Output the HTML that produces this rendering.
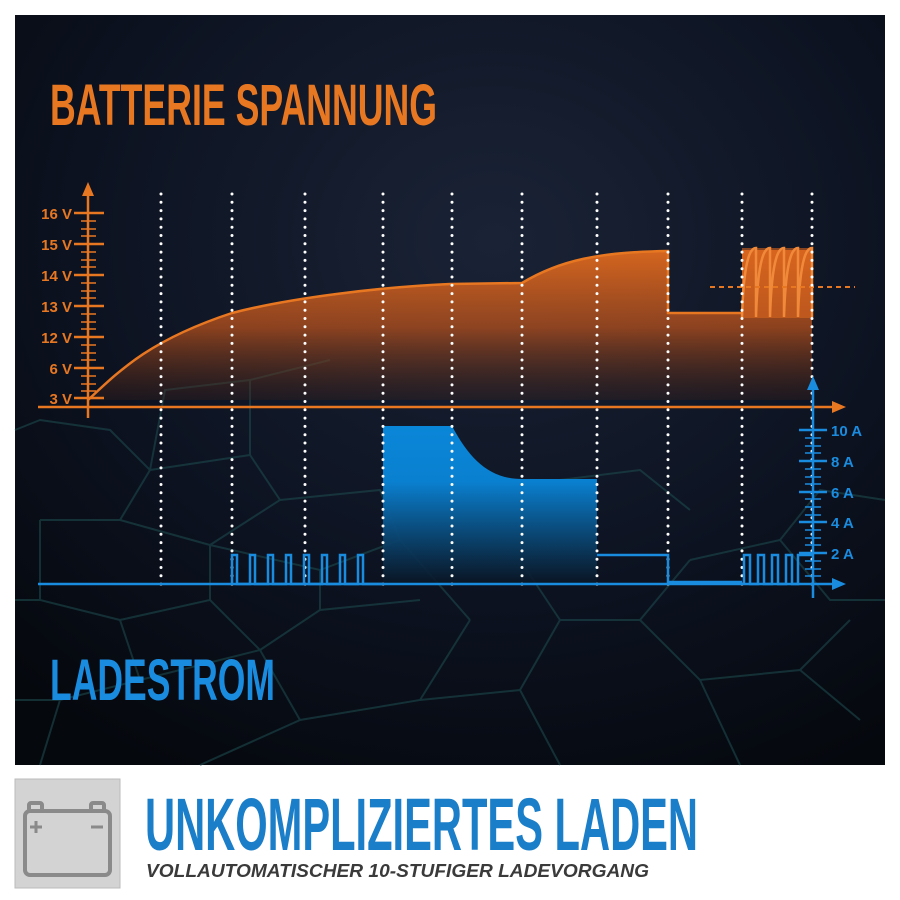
<!DOCTYPE html>
<html><head><meta charset="utf-8"><style>
html,body{margin:0;padding:0;background:#fff;}
svg{display:block}
</style></head><body>
<svg width="900" height="900" viewBox="0 0 900 900" xmlns="http://www.w3.org/2000/svg">
<defs>
<radialGradient id="bg" cx="0.55" cy="0.3" r="0.8">
<stop offset="0" stop-color="#1a2336"/><stop offset="0.6" stop-color="#0c1220"/><stop offset="1" stop-color="#05080d"/>
</radialGradient>
<linearGradient id="og" gradientUnits="userSpaceOnUse" x1="0" y1="250" x2="0" y2="405">
<stop offset="0" stop-color="#e06a1e" stop-opacity="0.95"/><stop offset="0.5" stop-color="#b5501c" stop-opacity="0.75"/><stop offset="1" stop-color="#3a1f18" stop-opacity="0.25"/>
</linearGradient>
<linearGradient id="bgr" gradientUnits="userSpaceOnUse" x1="0" y1="426" x2="0" y2="585">
<stop offset="0" stop-color="#0a86d8"/><stop offset="0.35" stop-color="#0a80d0"/><stop offset="1" stop-color="#0a1422" stop-opacity="0.9"/>
</linearGradient>
</defs>
<rect x="15" y="15" width="870" height="750" fill="url(#bg)"/>
<g stroke="#1d4a4c" stroke-width="2" fill="none" opacity="0.6">
<path d="M15 430 L40 420 L110 430 L150 470 L120 520 L40 520 M150 470 L250 455 L280 500 L210 545 L120 520 M280 500 L380 490 L400 540 L320 570 L210 545 M40 520 L40 600 L120 620 L140 680 L60 700 M120 620 L210 600 L210 545 M210 600 L260 650 L140 680 M260 650 L320 610 L320 570 M320 610 L420 600 M260 650 L300 720 L200 765 M300 720 L420 700 L470 620 M420 700 L520 690 L560 620 L640 620 L690 560 M520 690 L560 765 M640 620 L700 680 L800 670 L850 620 M700 680 L740 765 M800 670 L860 720 M560 620 L520 560 M690 560 L780 540 L820 490 L885 500 M780 540 L830 600 L885 600 M560 480 L640 470 L690 510 M400 540 L470 620 M150 470 L165 390 L250 380 L250 455 M250 380 L330 360 M15 600 L40 600 M15 700 L60 700 L40 765"/>
</g>
<!-- orange fill -->
<path d="M88 400 C120 370 150 340 232 313 C290 298 380 287 450 284 L522 283 C560 260 600 252 668 251 L668 313 L742 313 L742 250 L812 250 L812 400 Z" fill="url(#og)"/>
<path d="M88 400 C120 370 150 340 232 313 C290 298 380 287 450 284 L522 283 C560 260 600 252 668 251 L668 313 L742 313" fill="none" stroke="#e87722" stroke-width="2.5"/>
<rect x="742" y="248" width="70" height="70" fill="#d8641e" opacity="0.6"/>
<path d="M742 317 C744 252 752 248 756 248 L756 317 M756 317 C758 252 766 248 770 248 L770 317 M770 317 C772 252 780 248 784 248 L784 317 M784 317 C786 252 794 248 798 248 L798 317 M798 317 C800 252 808 248 812 248 L812 317" fill="none" stroke="#f08a3a" stroke-width="2.5"/>
<line x1="710" y1="287" x2="855" y2="287" stroke="#e87722" stroke-width="2" stroke-dasharray="5 4"/>
<!-- blue block -->
<path d="M383 585 L383 426 L452 426 C470 460 490 479 522 479 L597 479 L597 585 Z" fill="url(#bgr)"/>
<!-- dotted verticals -->
<g stroke="#fff" stroke-width="3" stroke-linecap="round" stroke-dasharray="0 8.3">
<line x1="161" y1="194" x2="161" y2="586"/><line x1="232" y1="194" x2="232" y2="586"/><line x1="305" y1="194" x2="305" y2="586"/><line x1="383" y1="194" x2="383" y2="586"/><line x1="452" y1="194" x2="452" y2="586"/><line x1="522" y1="194" x2="522" y2="586"/><line x1="597" y1="194" x2="597" y2="586"/><line x1="668" y1="194" x2="668" y2="586"/><line x1="742" y1="194" x2="742" y2="586"/><line x1="812" y1="194" x2="812" y2="586"/>
</g>
<!-- orange axes -->
<g stroke="#e87722" stroke-width="2.5" fill="none">
<line x1="88" y1="192" x2="88" y2="418"/>
<line x1="38" y1="407" x2="835" y2="407"/>
<path d="M74 213 H104 M74 244 H104 M74 275 H104 M74 306 H104 M74 337 H104 M74 368 H104 M74 398 H104" />
<path d="M81 221H96M81 229H96M81 236H96M81 252H96M81 260H96M81 267H96M81 283H96M81 291H96M81 298H96M81 314H96M81 322H96M81 329H96M81 345H96M81 353H96M81 360H96M81 376H96M81 384H96M81 391H96" stroke-width="1.5"/>
</g>
<polygon points="88,182 82,196 94,196" fill="#e87722"/>
<polygon points="846,407 832,401 832,413" fill="#e87722"/>
<g font-family="Liberation Sans, sans-serif" font-weight="bold" font-size="15" fill="#e87722" text-anchor="end">
<text x="72" y="219">16 V</text><text x="72" y="250">15 V</text><text x="72" y="281">14 V</text><text x="72" y="312">13 V</text><text x="72" y="343">12 V</text><text x="72" y="374">6 V</text><text x="72" y="404">3 V</text>
</g>
<!-- blue lines -->
<g stroke="#1a8ce0" stroke-width="2.5" fill="none">
<line x1="38" y1="584" x2="835" y2="584"/>
<path d="M232 584 V555 H237 V584 H250 V555 H255 V584 H268 V555 H273 V584 H286 V555 H291 V584 H304 V555 H309 V584 H322 V555 H327 V584 H340 V555 H345 V584 H358 V555 H363 V584 H383"/>
<path d="M597 555 H668 V582 H742"/>
<path d="M744 584 V555 H750 V584 H758 V555 H764 V584 H772 V555 H778 V584 H786 V555 H792 V584 H798 V555 H812"/>
<line x1="813" y1="384" x2="813" y2="598"/>
<path d="M799 430H827M799 461H827M799 492H827M799 522H827M799 553H827"/>
<path d="M805 438H821M805 446H821M805 453H821M805 469H821M805 477H821M805 484H821M805 499H821M805 507H821M805 515H821M805 530H821M805 538H821M805 545H821M805 561H821M805 569H821M805 576H821" stroke-width="1.5"/>
</g>
<polygon points="813,376 807,390 819,390" fill="#1a8ce0"/>
<polygon points="846,584 832,578 832,590" fill="#1a8ce0"/>
<g font-family="Liberation Sans, sans-serif" font-weight="bold" font-size="15" fill="#1a8ce0">
<text x="831" y="436">10 A</text><text x="831" y="467">8 A</text><text x="831" y="498">6 A</text><text x="831" y="528">4 A</text><text x="831" y="559">2 A</text>
</g>
<!-- titles -->
<text x="50" y="125" font-family="Liberation Sans, sans-serif" font-weight="bold" font-size="58" fill="#e87722" textLength="387" lengthAdjust="spacingAndGlyphs">BATTERIE SPANNUNG</text>
<text x="50" y="700" font-family="Liberation Sans, sans-serif" font-weight="bold" font-size="58" fill="#1a8ce0" textLength="225" lengthAdjust="spacingAndGlyphs">LADESTROM</text>
<!-- bottom -->
<rect x="15" y="779" width="105" height="109" fill="#d3d3d3" stroke="#bbb"/>
<g fill="none" stroke="#8a8a8a" stroke-width="4">
<rect x="25" y="811" width="85" height="64" rx="5"/>
<rect x="29" y="803" width="13" height="8" rx="2"/><rect x="91" y="803" width="13" height="8" rx="2"/>
<path d="M30 827H42M36 821V833M91 827H103" stroke-width="3"/>
</g>
<text x="145" y="850" font-family="Liberation Sans, sans-serif" font-weight="bold" font-size="74" fill="#1a7ec8" textLength="553" lengthAdjust="spacingAndGlyphs">UNKOMPLIZIERTES LADEN</text>
<text x="146" y="877" font-family="Liberation Sans, sans-serif" font-weight="bold" font-style="italic" font-size="18" fill="#3a3a3a" textLength="503" lengthAdjust="spacingAndGlyphs">VOLLAUTOMATISCHER 10-STUFIGER LADEVORGANG</text>
</svg>
</body></html>
